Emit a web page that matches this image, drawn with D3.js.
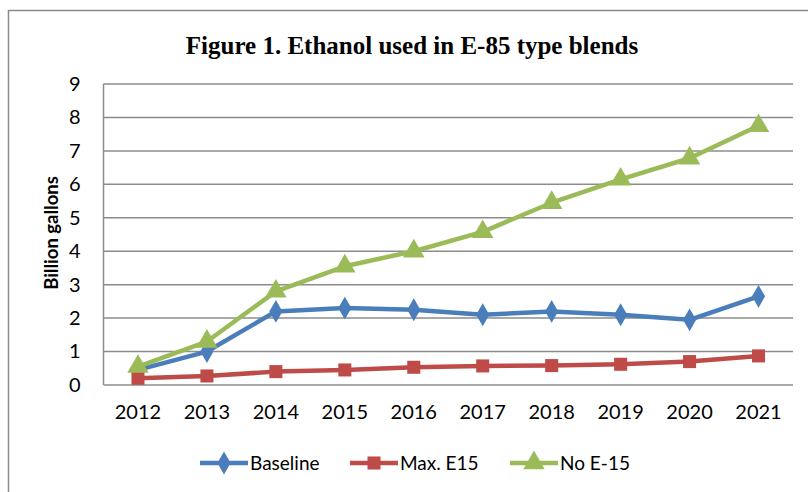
<!DOCTYPE html>
<html><head><meta charset="utf-8">
<script src="https://cdn.jsdelivr.net/npm/d3@7"></script>
<style>html,body{margin:0;padding:0;background:#fff;}</style>
</head><body><svg id="c" width="808" height="492"></svg>
<script>
const years = ["2012","2013","2014","2015","2016","2017","2018","2019","2020","2021"];
const baseline = [0.45,1.0,2.2,2.3,2.25,2.1,2.2,2.1,1.95,2.65];
const maxE15 = [0.2,0.27,0.4,0.45,0.53,0.57,0.58,0.62,0.7,0.87];
const noE15 = [0.55,1.3,2.8,3.55,4.0,4.58,5.45,6.15,6.78,7.75];
const yTicks = [0,1,2,3,4,5,6,7,8,9];
const seriesNames = ["Baseline","Max. E15","No E-15"];
const colors = ["#4A7EBB","#BE4B48","#9BBB59"];
const symbols = [d3.symbolDiamond, d3.symbolSquare, d3.symbolTriangle];
const symSizes = [150, 170, 200];

const svg = d3.select("#c");
const sans = "Lato, 'Open Sans', sans-serif";

// outer frame
svg.append("path").attr("d","M8.5,492 L8.5,10.5 L808,10.5").attr("fill","none").attr("stroke","#8c8c8c").attr("stroke-width",1.5);

const m = {l:103.5, r:793, t:84, b:385};
const x = d3.scaleBand().domain(years).range([m.l,m.r]);
const y = d3.scaleLinear().domain([0,9]).range([m.b,m.t]);

// gridlines
svg.append("g").selectAll("line").data(yTicks).join("line")
  .attr("x1",m.l).attr("x2",m.r).attr("y1",d=>y(d)).attr("y2",d=>y(d))
  .attr("stroke","#8c8c8c").attr("stroke-width",1.5);
svg.append("line").attr("x1",m.l).attr("x2",m.l).attr("y1",m.t).attr("y2",m.b).attr("stroke","#8c8c8c").attr("stroke-width",1.5);

// y axis
const ya = svg.append("g").attr("transform",`translate(${m.l},0)`).call(d3.axisLeft(y).tickValues(yTicks).tickSize(0).tickPadding(23));
ya.select(".domain").remove();
ya.selectAll("text").attr("font-family",sans).attr("font-size",20).attr("fill","#000");

// x axis
const xa = svg.append("g").attr("transform",`translate(0,${m.b})`).call(d3.axisBottom(x).tickSize(0).tickPadding(20));
xa.select(".domain").remove();
xa.selectAll("text").attr("font-family",sans).attr("font-size",20).attr("fill","#000");

// title
svg.append("text").attr("x",412).attr("y",54).attr("text-anchor","middle")
  .attr("font-family","'Liberation Serif', 'Times New Roman', serif").attr("font-weight","bold").attr("font-size",25)
  .text("Figure 1. Ethanol used in E-85 type blends");

// y label
svg.append("text").attr("transform","translate(58,233) rotate(-90)").attr("text-anchor","middle")
  .attr("font-family",sans).attr("font-weight","bold").attr("font-size",18.5).text("Billion gallons");

const data = [baseline, maxE15, noE15];
const line = d3.line().x((d,i)=>x(years[i])+x.bandwidth()/2).y(d=>y(d));
data.forEach((s,k)=>{
  svg.append("path").datum(s).attr("d",line).attr("fill","none").attr("stroke",colors[k]).attr("stroke-width",4.5).attr("stroke-linejoin","round");
});
data.forEach((s,k)=>{
  svg.append("g").selectAll("path").data(s).join("path")
    .attr("d",d3.symbol().type(symbols[k]).size(symSizes[k]))
    .attr("transform",(d,i)=>`translate(${x(years[i])+x.bandwidth()/2},${y(d)})`)
    .attr("fill",colors[k]);
});

// legend
const legX = [200,350,510];
const lg = svg.append("g");
seriesNames.forEach((n,k)=>{
  const g = lg.append("g").attr("transform",`translate(${legX[k]},463)`);
  g.append("line").attr("x1",0).attr("x2",48).attr("stroke",colors[k]).attr("stroke-width",4.5);
  g.append("path").attr("d",d3.symbol().type(symbols[k]).size(symSizes[k])).attr("transform","translate(24,0)").attr("fill",colors[k]);
  g.append("text").attr("x",50).attr("y",7).attr("font-family",sans).attr("font-size",19).text(n);
});
</script></body></html>
